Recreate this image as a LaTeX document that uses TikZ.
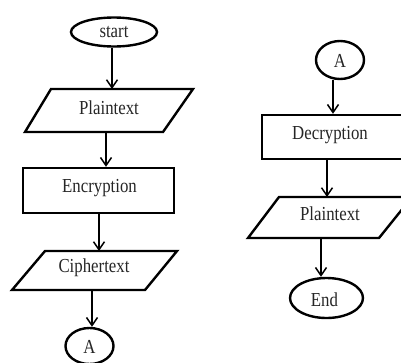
\documentclass[tikz,border=0pt]{standalone}
\usepackage{fontspec}
\setmainfont{Liberation Serif}
\usetikzlibrary{arrows.meta,shapes.geometric}
% labels are set slightly taller than wide
\newcommand{\flowtxt}[1]{\scalebox{1}[1.18]{#1}}
\begin{document}
\begin{tikzpicture}[x=1pt,y=-1pt,
  box/.style={draw=black,line width=2.4pt,line join=miter},
  label/.style={font=\fontsize{16.8}{18}\selectfont,text=black!85,inner sep=0pt},
  term/.style={ellipse,draw=black,line width=2.4pt,inner sep=0pt},
  flow/.style={draw=black,line width=1.8pt,-{Straight Barb[length=8pt,width=11pt,line width=1.5pt]}}]
\useasboundingbox (0,0) rectangle (401,362);
\clip (0,0) rectangle (401,362);

% ---------- encryption side ----------
\node[term,minimum width=86pt,minimum height=29pt] (start) at (114,32) {};
\node[label] (starttext) at (114,32) {\flowtxt{start}};

\draw[box] (51,89) -- (193,89) -- (163,132) -- (25,132) -- cycle;
\node[label] (plainA) at (109,107.5) {\flowtxt{Plaintext}};
\coordinate (plainAtop) at (112,89);
\coordinate (plainAbot) at (106,132);

\node[box,minimum width=151pt,minimum height=45pt,inner sep=0pt] (enc) at (98.5,190.5) {};
\node[label] (enctext) at (99.5,188) {\flowtxt{Encryption}};

\draw[box] (45,251) -- (177,251) -- (145,290) -- (12,290) -- cycle;
\node[label] (cipher) at (94,268) {\flowtxt{Ciphertext}};
\coordinate (ciphertop) at (99,251);
\coordinate (cipherbot) at (92,290);

\node[term,minimum width=48pt,minimum height=36pt] (connA) at (89.5,346) {};
\node[label] (connAtext) at (89.5,347) {\flowtxt{A}};

\draw[flow] (start.south -| plainAtop) -- (plainAtop);
\draw[flow] (plainAbot) -- (plainAbot |- enc.north);
\draw[flow] (enc.south -| ciphertop) -- (ciphertop);
\draw[flow] (cipherbot) -- (cipherbot |- connA.north);

% ---------- decryption side ----------
\node[term,minimum width=48pt,minimum height=38pt] (connB) at (340,60) {};
\node[label] (connBtext) at (340,61) {\flowtxt{A}};

\node[box,minimum width=150pt,minimum height=44pt,inner sep=0pt] (dec) at (337,137) {};
\node[label] (dectext) at (330,135) {\flowtxt{Decryption}};

\draw[box] (279,197) -- (412,197) -- (379,238) -- (248,238) -- cycle;
\node[label] (plainB) at (330,214) {\flowtxt{Plaintext}};
\coordinate (plainBtop) at (327,197);
\coordinate (plainBbot) at (321,238);

\node[term,minimum width=73pt,minimum height=40pt] (stop) at (326.5,298) {};
\node[label] (stoptext) at (324.5,300) {\flowtxt{End}};

\draw[flow] ([xshift=-7pt]connB.south) -- ([xshift=-7pt]connB.south |- dec.north);
\draw[flow] (dec.south -| plainBtop) -- (plainBtop);
\draw[flow] (plainBbot) -- (plainBbot |- stop.north);
\end{tikzpicture}
\end{document}
